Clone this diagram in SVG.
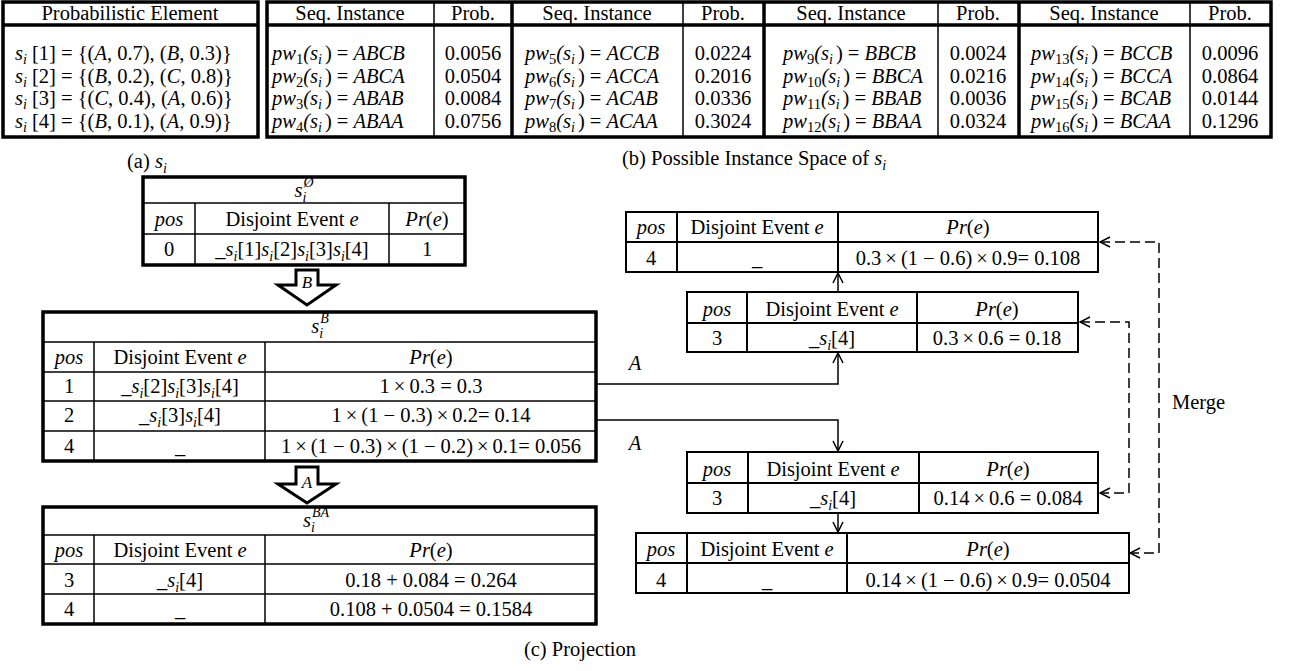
<svg xmlns="http://www.w3.org/2000/svg" width="1291" height="671" viewBox="0 0 1291 671">
<style>
.t{font-family:"Liberation Serif","Times New Roman",serif;font-size:20.5px;fill:#000}
.c{text-anchor:middle}
.i{font-style:italic}
.n{font-style:normal}
.sub{font-size:14px}
.sb{font-size:14.5px;font-style:normal}
.bo{fill:none;stroke:#000;stroke-width:3.5}
.bi{fill:none;stroke:#000;stroke-width:1.5}
.rb{fill:none;stroke:#000;stroke-width:2}
.con{fill:none;stroke:#000;stroke-width:1.5}
.dash{fill:none;stroke:#000;stroke-width:1.5;stroke-dasharray:10 5}
.blk{fill:#fff;stroke:#000;stroke-width:3;stroke-linejoin:miter}
</style>
<defs>
<marker id="ah" viewBox="0 0 12 12" refX="11" refY="6" markerWidth="12" markerHeight="12" markerUnits="userSpaceOnUse" orient="auto">
<path d="M1,1 L11,6 L1,11" fill="none" stroke="#000" stroke-width="1.5" stroke-dasharray="none"/>
</marker>
<marker id="ahs" viewBox="0 0 12 12" refX="11" refY="6" markerWidth="12" markerHeight="12" markerUnits="userSpaceOnUse" orient="auto-start-reverse">
<path d="M1,1 L11,6 L1,11" fill="none" stroke="#000" stroke-width="1.5" stroke-dasharray="none"/>
</marker>
</defs>
<rect width="1291" height="671" fill="#fff"/>

<g id="table-a">
<rect class="bo" x="3" y="2" width="255" height="135"/>
<line class="bo" x1="3" y1="25" x2="258" y2="25"/>
<text class="t c" x="130" y="20">Probabilistic Element</text>
<text class="t" x="15" y="60"><tspan class="i">s</tspan><tspan class="i sub" dy="4">i</tspan><tspan dy="-4"> [1] = {(</tspan><tspan class="i">A</tspan>, 0.7), (<tspan class="i">B</tspan>, 0.3)}</text>
<text class="t" x="15" y="83"><tspan class="i">s</tspan><tspan class="i sub" dy="4">i</tspan><tspan dy="-4"> [2] = {(</tspan><tspan class="i">B</tspan>, 0.2), (<tspan class="i">C</tspan>, 0.8)}</text>
<text class="t" x="15" y="105"><tspan class="i">s</tspan><tspan class="i sub" dy="4">i</tspan><tspan dy="-4"> [3] = {(</tspan><tspan class="i">C</tspan>, 0.4), (<tspan class="i">A</tspan>, 0.6)}</text>
<text class="t" x="15" y="128"><tspan class="i">s</tspan><tspan class="i sub" dy="4">i</tspan><tspan dy="-4"> [4] = {(</tspan><tspan class="i">B</tspan>, 0.1), (<tspan class="i">A</tspan>, 0.9)}</text>
</g>
<text id="label-a" class="t" x="127" y="168">(a) <tspan class="i">s</tspan><tspan class="i sub" dy="5">i</tspan></text>

<g id="table-b">
<rect class="bo" x="267" y="2" width="1004" height="135"/>
<line class="bo" x1="267" y1="25" x2="1271" y2="25"/>
<line class="bi" x1="434" y1="2" x2="434" y2="137"/>
<line class="bo" x1="512" y1="2" x2="512" y2="137"/>
<line class="bi" x1="683" y1="2" x2="683" y2="137"/>
<line class="bo" x1="764" y1="2" x2="764" y2="137"/>
<line class="bi" x1="938" y1="2" x2="938" y2="137"/>
<line class="bo" x1="1019" y1="2" x2="1019" y2="137"/>
<line class="bi" x1="1190" y1="2" x2="1190" y2="137"/>
<text class="t c" x="350" y="20">Seq. Instance</text>
<text class="t c" x="473" y="20">Prob.</text>
<text class="t c" x="597" y="20">Seq. Instance</text>
<text class="t c" x="723" y="20">Prob.</text>
<text class="t c" x="851" y="20">Seq. Instance</text>
<text class="t c" x="978" y="20">Prob.</text>
<text class="t c" x="1104" y="20">Seq. Instance</text>
<text class="t c" x="1230" y="20">Prob.</text>

<text class="t i" x="272" y="60">pw<tspan class="sb" dy="4">1</tspan><tspan dy="-4">(s</tspan><tspan class="sub" dy="4">i</tspan><tspan class="n" dx="3" dy="-4">) = </tspan>ABCB</text>
<text class="t i" x="272" y="83">pw<tspan class="sb" dy="4">2</tspan><tspan dy="-4">(s</tspan><tspan class="sub" dy="4">i</tspan><tspan class="n" dx="3" dy="-4">) = </tspan>ABCA</text>
<text class="t i" x="272" y="105">pw<tspan class="sb" dy="4">3</tspan><tspan dy="-4">(s</tspan><tspan class="sub" dy="4">i</tspan><tspan class="n" dx="3" dy="-4">) = </tspan>ABAB</text>
<text class="t i" x="272" y="128">pw<tspan class="sb" dy="4">4</tspan><tspan dy="-4">(s</tspan><tspan class="sub" dy="4">i</tspan><tspan class="n" dx="3" dy="-4">) = </tspan>ABAA</text>
<text class="t c" x="473" y="60">0.0056</text>
<text class="t c" x="473" y="83">0.0504</text>
<text class="t c" x="473" y="105">0.0084</text>
<text class="t c" x="473" y="128">0.0756</text>

<text class="t i" x="525" y="60">pw<tspan class="sb" dy="4">5</tspan><tspan dy="-4">(s</tspan><tspan class="sub" dy="4">i</tspan><tspan class="n" dx="3" dy="-4">) = </tspan>ACCB</text>
<text class="t i" x="525" y="83">pw<tspan class="sb" dy="4">6</tspan><tspan dy="-4">(s</tspan><tspan class="sub" dy="4">i</tspan><tspan class="n" dx="3" dy="-4">) = </tspan>ACCA</text>
<text class="t i" x="525" y="105">pw<tspan class="sb" dy="4">7</tspan><tspan dy="-4">(s</tspan><tspan class="sub" dy="4">i</tspan><tspan class="n" dx="3" dy="-4">) = </tspan>ACAB</text>
<text class="t i" x="525" y="128">pw<tspan class="sb" dy="4">8</tspan><tspan dy="-4">(s</tspan><tspan class="sub" dy="4">i</tspan><tspan class="n" dx="3" dy="-4">) = </tspan>ACAA</text>
<text class="t c" x="723" y="60">0.0224</text>
<text class="t c" x="723" y="83">0.2016</text>
<text class="t c" x="723" y="105">0.0336</text>
<text class="t c" x="723" y="128">0.3024</text>

<text class="t i" x="783" y="60">pw<tspan class="sb" dy="4">9</tspan><tspan dy="-4">(s</tspan><tspan class="sub" dy="4">i</tspan><tspan class="n" dx="3" dy="-4">) = </tspan>BBCB</text>
<text class="t i" x="783" y="83">pw<tspan class="sb" dy="4">10</tspan><tspan dy="-4">(s</tspan><tspan class="sub" dy="4">i</tspan><tspan class="n" dx="3" dy="-4">) = </tspan>BBCA</text>
<text class="t i" x="783" y="105">pw<tspan class="sb" dy="4">11</tspan><tspan dy="-4">(s</tspan><tspan class="sub" dy="4">i</tspan><tspan class="n" dx="3" dy="-4">) = </tspan>BBAB</text>
<text class="t i" x="783" y="128">pw<tspan class="sb" dy="4">12</tspan><tspan dy="-4">(s</tspan><tspan class="sub" dy="4">i</tspan><tspan class="n" dx="3" dy="-4">) = </tspan>BBAA</text>
<text class="t c" x="978" y="60">0.0024</text>
<text class="t c" x="978" y="83">0.0216</text>
<text class="t c" x="978" y="105">0.0036</text>
<text class="t c" x="978" y="128">0.0324</text>

<text class="t i" x="1031" y="60">pw<tspan class="sb" dy="4">13</tspan><tspan dy="-4">(s</tspan><tspan class="sub" dy="4">i</tspan><tspan class="n" dx="3" dy="-4">) = </tspan>BCCB</text>
<text class="t i" x="1031" y="83">pw<tspan class="sb" dy="4">14</tspan><tspan dy="-4">(s</tspan><tspan class="sub" dy="4">i</tspan><tspan class="n" dx="3" dy="-4">) = </tspan>BCCA</text>
<text class="t i" x="1031" y="105">pw<tspan class="sb" dy="4">15</tspan><tspan dy="-4">(s</tspan><tspan class="sub" dy="4">i</tspan><tspan class="n" dx="3" dy="-4">) = </tspan>BCAB</text>
<text class="t i" x="1031" y="128">pw<tspan class="sb" dy="4">16</tspan><tspan dy="-4">(s</tspan><tspan class="sub" dy="4">i</tspan><tspan class="n" dx="3" dy="-4">) = </tspan>BCAA</text>
<text class="t c" x="1230" y="60">0.0096</text>
<text class="t c" x="1230" y="83">0.0864</text>
<text class="t c" x="1230" y="105">0.0144</text>
<text class="t c" x="1230" y="128">0.1296</text>
</g>
<text id="label-b" class="t" x="622" y="165">(b) Possible Instance Space of <tspan class="i">s</tspan><tspan class="i sub" dy="5">i</tspan></text>

<g id="s-empty">
<rect class="bo" x="143" y="177" width="322" height="88"/>
<line class="bi" x1="143" y1="203" x2="465" y2="203"/>
<line class="bi" x1="143" y1="234" x2="465" y2="234"/>
<line class="bi" x1="195" y1="203" x2="195" y2="265"/>
<line class="bi" x1="389" y1="203" x2="389" y2="265"/>
<text class="t c" x="304" y="197"><tspan class="i">s</tspan><tspan class="i sub" dy="5">i</tspan><tspan class="i sub" dx="-3" dy="-15">Ø</tspan></text>
<text class="t c i" x="169" y="226">pos</text>
<text class="t c" x="292" y="226">Disjoint Event <tspan class="i">e</tspan></text>
<text class="t c" x="427" y="226"><tspan class="i">Pr</tspan>(<tspan class="i">e</tspan>)</text>
<text class="t c" x="169" y="256">0</text>
<text class="t c" x="292" y="256">_<tspan class="i">s</tspan><tspan class="i sub" dy="5">i</tspan><tspan dy="-5">[1]</tspan><tspan class="i">s</tspan><tspan class="i sub" dy="5">i</tspan><tspan dy="-5">[2]</tspan><tspan class="i">s</tspan><tspan class="i sub" dy="5">i</tspan><tspan dy="-5">[3]</tspan><tspan class="i">s</tspan><tspan class="i sub" dy="5">i</tspan><tspan dy="-5">[4]</tspan></text>
<text class="t c" x="427" y="256">1</text>
</g>

<g id="arrow-B">
<polygon class="blk" points="296,270 318,270 318,285 336,285 307,305 278,285 296,285"/>
<text class="t c i" x="307" y="288" style="font-size:17px">B</text>
</g>

<g id="s-B">
<rect class="bo" x="43" y="312" width="553" height="149"/>
<line class="bi" x1="43" y1="342" x2="596" y2="342"/>
<line class="bi" x1="43" y1="372" x2="596" y2="372"/>
<line class="bi" x1="43" y1="401" x2="596" y2="401"/>
<line class="bi" x1="43" y1="431" x2="596" y2="431"/>
<line class="bi" x1="94" y1="342" x2="94" y2="461"/>
<line class="bi" x1="265" y1="342" x2="265" y2="461"/>
<text class="t c" x="320" y="333"><tspan class="i">s</tspan><tspan class="i sub" dy="5">i</tspan><tspan class="i sub" dx="-3" dy="-15">B</tspan></text>
<text class="t c i" x="69" y="364">pos</text>
<text class="t c" x="180" y="364">Disjoint Event <tspan class="i">e</tspan></text>
<text class="t c" x="431" y="364"><tspan class="i">Pr</tspan>(<tspan class="i">e</tspan>)</text>
<text class="t c" x="69" y="393">1</text>
<text class="t c" x="180" y="393">_<tspan class="i">s</tspan><tspan class="i sub" dy="5">i</tspan><tspan dy="-5">[2]</tspan><tspan class="i">s</tspan><tspan class="i sub" dy="5">i</tspan><tspan dy="-5">[3]</tspan><tspan class="i">s</tspan><tspan class="i sub" dy="5">i</tspan><tspan dy="-5">[4]</tspan></text>
<text class="t c" x="431" y="393">1<tspan dx="4">×</tspan><tspan dx="4">0.3 = 0.3</tspan></text>
<text class="t c" x="69" y="422">2</text>
<text class="t c" x="180" y="422">_<tspan class="i">s</tspan><tspan class="i sub" dy="5">i</tspan><tspan dy="-5">[3]</tspan><tspan class="i">s</tspan><tspan class="i sub" dy="5">i</tspan><tspan dy="-5">[4]</tspan></text>
<text class="t c" x="431" y="422">1<tspan dx="4">×</tspan><tspan dx="4">(1 − 0.3)</tspan><tspan dx="4">×</tspan><tspan dx="4">0.2= 0.14</tspan></text>
<text class="t c" x="69" y="453">4</text>
<text class="t c" x="180" y="453">_</text>
<text class="t c" x="431" y="453">1<tspan dx="4">×</tspan><tspan dx="4">(1 − 0.3)</tspan><tspan dx="4">×</tspan><tspan dx="4">(1 − 0.2)</tspan><tspan dx="4">×</tspan><tspan dx="4">0.1= 0.056</tspan></text>
</g>

<g id="arrow-A">
<polygon class="blk" points="296,467 318,467 318,484 336,484 307,503 278,484 296,484"/>
<text class="t c i" x="307" y="488" style="font-size:17px">A</text>
</g>

<g id="s-BA">
<rect class="bo" x="43" y="507" width="553" height="117"/>
<line class="bi" x1="43" y1="535" x2="596" y2="535"/>
<line class="bi" x1="43" y1="564" x2="596" y2="564"/>
<line class="bi" x1="43" y1="594" x2="596" y2="594"/>
<line class="bi" x1="94" y1="535" x2="94" y2="624"/>
<line class="bi" x1="265" y1="535" x2="265" y2="624"/>
<text class="t c" x="316" y="527"><tspan class="i">s</tspan><tspan class="i sub" dy="5">i</tspan><tspan class="i sub" dx="-3" dy="-15">BA</tspan></text>
<text class="t c i" x="69" y="557">pos</text>
<text class="t c" x="180" y="557">Disjoint Event <tspan class="i">e</tspan></text>
<text class="t c" x="431" y="557"><tspan class="i">Pr</tspan>(<tspan class="i">e</tspan>)</text>
<text class="t c" x="69" y="587">3</text>
<text class="t c" x="180" y="587">_<tspan class="i">s</tspan><tspan class="i sub" dy="5">i</tspan><tspan dy="-5">[4]</tspan></text>
<text class="t c" x="431" y="587">0.18 + 0.084 = 0.264</text>
<text class="t c" x="69" y="616">4</text>
<text class="t c" x="180" y="616">_</text>
<text class="t c" x="431" y="616">0.108 + 0.0504 = 0.1584</text>
</g>

<g id="t1">
<rect class="rb" x="626" y="212" width="472" height="60"/>
<line class="rb" x1="626" y1="242" x2="1098" y2="242"/>
<line class="rb" x1="677" y1="212" x2="677" y2="272"/>
<line class="rb" x1="838" y1="212" x2="838" y2="272"/>
<text class="t c i" x="651" y="234">pos</text>
<text class="t c" x="757" y="234">Disjoint Event <tspan class="i">e</tspan></text>
<text class="t c" x="968" y="234"><tspan class="i">Pr</tspan>(<tspan class="i">e</tspan>)</text>
<text class="t c" x="651" y="265">4</text>
<text class="t c" x="757" y="265">_</text>
<text class="t c" x="968" y="265">0.3<tspan dx="4">×</tspan><tspan dx="4">(1 − 0.6)</tspan><tspan dx="4">×</tspan><tspan dx="4">0.9= 0.108</tspan></text>
</g>

<g id="t2">
<rect class="rb" x="687" y="292" width="391" height="60"/>
<line class="rb" x1="687" y1="323" x2="1078" y2="323"/>
<line class="rb" x1="747" y1="292" x2="747" y2="352"/>
<line class="rb" x1="917" y1="292" x2="917" y2="352"/>
<text class="t c i" x="717" y="316">pos</text>
<text class="t c" x="832" y="316">Disjoint Event <tspan class="i">e</tspan></text>
<text class="t c" x="997" y="316"><tspan class="i">Pr</tspan>(<tspan class="i">e</tspan>)</text>
<text class="t c" x="717" y="345">3</text>
<text class="t c" x="832" y="345">_<tspan class="i">s</tspan><tspan class="i sub" dy="5">i</tspan><tspan dy="-5">[4]</tspan></text>
<text class="t c" x="997" y="345">0.3<tspan dx="4">×</tspan><tspan dx="4">0.6 = 0.18</tspan></text>
</g>

<g id="t3">
<rect class="rb" x="687" y="452" width="411" height="61"/>
<line class="rb" x1="687" y1="483" x2="1098" y2="483"/>
<line class="rb" x1="748" y1="452" x2="748" y2="513"/>
<line class="rb" x1="919" y1="452" x2="919" y2="513"/>
<text class="t c i" x="717" y="476">pos</text>
<text class="t c" x="833" y="476">Disjoint Event <tspan class="i">e</tspan></text>
<text class="t c" x="1008" y="476"><tspan class="i">Pr</tspan>(<tspan class="i">e</tspan>)</text>
<text class="t c" x="717" y="505">3</text>
<text class="t c" x="833" y="505">_<tspan class="i">s</tspan><tspan class="i sub" dy="5">i</tspan><tspan dy="-5">[4]</tspan></text>
<text class="t c" x="1008" y="505">0.14<tspan dx="4">×</tspan><tspan dx="4">0.6 = 0.084</tspan></text>
</g>

<g id="t4">
<rect class="rb" x="636" y="533" width="493" height="60"/>
<line class="rb" x1="636" y1="563" x2="1129" y2="563"/>
<line class="rb" x1="687" y1="533" x2="687" y2="593"/>
<line class="rb" x1="847" y1="533" x2="847" y2="593"/>
<text class="t c i" x="661" y="556">pos</text>
<text class="t c" x="767" y="556">Disjoint Event <tspan class="i">e</tspan></text>
<text class="t c" x="988" y="556"><tspan class="i">Pr</tspan>(<tspan class="i">e</tspan>)</text>
<text class="t c" x="661" y="587">4</text>
<text class="t c" x="767" y="587">_</text>
<text class="t c" x="988" y="587">0.14<tspan dx="4">×</tspan><tspan dx="4">(1 − 0.6)</tspan><tspan dx="4">×</tspan><tspan dx="4">0.9= 0.0504</tspan></text>
</g>

<g id="connectors">
<polyline class="con" points="596,384 838,384 838,353" marker-end="url(#ah)"/>
<polyline class="con" points="596,420 838,420 838,451" marker-end="url(#ah)"/>
<line class="con" x1="838" y1="292" x2="838" y2="273" marker-end="url(#ah)"/>
<line class="con" x1="838" y1="513" x2="838" y2="532" marker-end="url(#ah)"/>
<polyline class="dash" points="1100,242 1159,242 1159,553 1130,553" marker-start="url(#ahs)" marker-end="url(#ah)"/>
<polyline class="dash" points="1080,322 1129,322 1129,493 1100,493" marker-start="url(#ahs)" marker-end="url(#ah)"/>
<text class="t c i" x="635" y="370">A</text>
<text class="t c i" x="635" y="450">A</text>
<text class="t" x="1172" y="409">Merge</text>
</g>

<text id="label-c" class="t c" x="580" y="656">(c) Projection</text>
</svg>
